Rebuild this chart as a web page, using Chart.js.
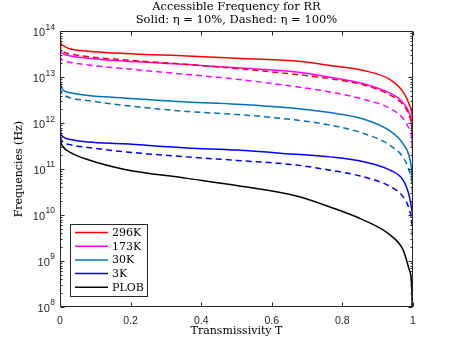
<!DOCTYPE html>
<html lang="en">
<head>
<meta charset="utf-8">
<script src="https://cdn.jsdelivr.net/npm/chart.js@4"></script>
<style>
  html, body { margin: 0; padding: 0; background: #fff; }
</style>
</head>
<body>
<canvas id="chart" width="457" height="346"></canvas>
<script>
// transmissivity samples (denser near both ends, where the curves bend)
const transmissivity = [0, 0.002, 0.01, 0.03, 0.08, 0.18, 0.36, 0.5, 0.67, 0.765, 0.86, 0.935, 0.972, 0.99, 0.997, 1];

// frequencies in Hz
const f296Solid  = [8.9e13, 5.75e13, 4.8e13, 4.1e13, 3.7e13, 3.3e13, 2.9e13, 2.6e13, 2.25e13, 1.8e13, 1.4e13, 8.9e12, 4.8e12, 2.5e12, 1.6e12, 6.3e11];
const f296Dashed = [5.5e13, 4.2e13, 3.55e13, 3.2e13, 2.8e13, 2.4e13, 1.9e13, 1.55e13, 1.15e13, 9.3e12, 6.8e12, 4.1e12, 2.5e12, 1.4e12, 7.9e11, 3.2e11];
const f173Solid  = [5.4e13, 3.8e13, 3.2e13, 2.9e13, 2.6e13, 2.25e13, 1.9e13, 1.6e13, 1.3e13, 1.0e13, 7.2e12, 4.5e12, 2.8e12, 1.6e12, 7.9e11, 1e11];
const f173Dashed = [3.0e13, 2.6e13, 2.35e13, 2.1e13, 1.85e13, 1.55e13, 1.15e13, 9.1e12, 6.2e12, 4.8e12, 3.3e12, 2.1e12, 1.26e12, 7.1e11, 4e11, 1e11];
const f30Solid   = [1.1e13, 7.1e12, 5.2e12, 4.6e12, 4.0e12, 3.55e12, 2.9e12, 2.6e12, 2.1e12, 1.7e12, 1.23e12, 6.8e11, 3.55e11, 1.8e11, 7.9e10, 2.5e10];
const f30Dashed  = [5.8e12, 5.0e12, 4.2e12, 3.55e12, 3.1e12, 2.45e12, 1.8e12, 1.55e12, 1.17e12, 9.1e11, 6.0e11, 3.3e11, 1.8e11, 8.9e10, 5e10, 2e10];
const f3Solid    = [9.1e11, 6.3e11, 5.0e11, 4.4e11, 3.9e11, 3.55e11, 2.9e11, 2.6e11, 2.1e11, 1.85e11, 1.45e11, 9.5e10, 5.75e10, 2.5e10, 1.26e10, 7.9e9];
const f3Dashed   = [5.0e11, 4.5e11, 3.8e11, 3.4e11, 2.95e11, 2.4e11, 1.85e11, 1.55e11, 1.23e11, 9.5e10, 6.8e10, 4.2e10, 2.5e10, 1.26e10, 6.3e9, 2e9];
const fPLOB      = [6.3e11, 4.2e11, 3.0e11, 2.3e11, 1.6e11, 1.0e11, 6.3e10, 4.4e10, 2.6e10, 1.5e10, 7.8e9, 3.7e9, 1.75e9, 6.3e8, 2e8, 1e6];

const xTicks = [0, 0.2, 0.4, 0.6, 0.8, 1];
const yDecades = [8, 9, 10, 11, 12, 13, 14];

const axisColor = '#262626';
const serif = 'DejaVu Serif';
const sans = 'Liberation Sans';

function toPoints(vals) {
    return transmissivity.map((t, i) => ({ x: t, y: vals[i] }));
}

function line(label, vals, color, dashed) {
    return {
        label: label,
        data: toPoints(vals),
        borderColor: color,
        backgroundColor: color,
        borderWidth: 1.5,
        borderDash: dashed ? [6, 4] : [],
        pointRadius: 0,
        cubicInterpolationMode: 'monotone',
        fill: false
    };
}

// box, inward ticks, y labels and the legend, MATLAB style
const matlabAxes = {
    id: 'matlabAxes',
    afterDatasetsDraw(chart) {
        const ctx = chart.ctx;
        const a = chart.chartArea;
        const xs = chart.scales.x, ys = chart.scales.y;
        ctx.save();
        ctx.strokeStyle = axisColor;
        ctx.lineWidth = 1;
        ctx.setLineDash([]);
        const L = Math.round(a.left) + 0.5, R = Math.round(a.right) - 0.5;
        const T = Math.round(a.top) + 0.5, B = Math.round(a.bottom) - 0.5;
        ctx.strokeRect(L, T, R - L, B - T);

        ctx.beginPath();
        xTicks.forEach(v => {
            const px = Math.round(xs.getPixelForValue(v)) + 0.5;
            ctx.moveTo(px, B); ctx.lineTo(px, B - 4);
            ctx.moveTo(px, T); ctx.lineTo(px, T + 4);
        });
        yDecades.forEach(d => {
            const py = Math.round(ys.getPixelForValue(Math.pow(10, d))) + 0.5;
            ctx.moveTo(L, py); ctx.lineTo(L + 4, py);
            ctx.moveTo(R, py); ctx.lineTo(R - 4, py);
            if (d < 14) {
                for (let m = 2; m <= 9; m++) {
                    const pm = Math.round(ys.getPixelForValue(m * Math.pow(10, d))) + 0.5;
                    ctx.moveTo(L, pm); ctx.lineTo(L + 2, pm);
                    ctx.moveTo(R, pm); ctx.lineTo(R - 2, pm);
                }
            }
        });
        ctx.stroke();

        // y tick labels 10^n
        ctx.fillStyle = axisColor;
        ctx.textBaseline = 'middle';
        ctx.textAlign = 'right';
        yDecades.forEach(d => {
            const py = ys.getPixelForValue(Math.pow(10, d));
            const exp = String(d);
            ctx.font = '8.5px "' + sans + '"';
            const ew = ctx.measureText(exp).width;
            ctx.fillText(exp, a.left - 5, py - 4);
            ctx.font = '11px "' + sans + '"';
            ctx.fillText('10', a.left - 5 - ew - 0.5, py + 2);
        });

        // legend in lower-left corner
        const items = chart.data.datasets.filter(ds => ds.borderDash.length === 0);
        const bx = 70.5, by = 224.5, bw = 77, bh = 72;
        ctx.fillStyle = '#fff';
        ctx.fillRect(bx, by, bw, bh);
        ctx.strokeStyle = axisColor;
        ctx.lineWidth = 1;
        ctx.strokeRect(bx, by, bw, bh);
        ctx.font = '11px "' + serif + '"';
        ctx.textAlign = 'left';
        items.forEach((ds, i) => {
            const yy = 232.5 + i * 13.7;
            ctx.strokeStyle = ds.borderColor;
            ctx.lineWidth = 1.5;
            ctx.beginPath();
            ctx.moveTo(75, yy); ctx.lineTo(108, yy);
            ctx.stroke();
            ctx.fillStyle = '#000';
            ctx.fillText(ds.label, 112, yy + 0.5);
        });
        ctx.restore();
    }
};

new Chart(document.getElementById('chart'), {
    type: 'line',
    data: {
        datasets: [
            line('296K', f296Solid, '#FF0000', false),
            line('296K', f296Dashed, '#FF0000', true),
            line('173K', f173Solid, '#FF00FF', false),
            line('173K', f173Dashed, '#FF00FF', true),
            line('30K', f30Solid, '#0072BD', false),
            line('30K', f30Dashed, '#0072BD', true),
            line('3K', f3Solid, '#0000FF', false),
            line('3K', f3Dashed, '#0000FF', true),
            line('PLOB', fPLOB, '#000000', false)
        ]
    },
    options: {
        responsive: false,
        animation: false,
        layout: { padding: { left: 0, right: 44, top: 0, bottom: 0 } },
        plugins: {
            legend: { display: false },
            tooltip: { enabled: false },
            title: {
                display: true,
                fullSize: false,
                text: ['Accessible Frequency for RR', 'Solid: η = 10%, Dashed: η = 100%'],
                color: '#000',
                font: { family: serif, size: 11.5, weight: 'normal', lineHeight: 1.1 },
                padding: { top: 1, bottom: 5 }
            }
        },
        scales: {
            x: {
                type: 'linear',
                min: 0,
                max: 1,
                grid: { display: false, drawTicks: false },
                border: { display: false },
                ticks: {
                    stepSize: 0.2,
                    color: axisColor,
                    font: { family: sans, size: 10.5 },
                    padding: 8,
                    maxRotation: 0,
                    callback: v => String(Number(v.toFixed(1)))
                },
                title: {
                    display: true,
                    text: 'Transmissivity T',
                    color: '#000',
                    font: { family: serif, size: 11 },
                    padding: { top: 0, bottom: 8 }
                },
                afterFit(scale) { scale.height = 39; }
            },
            y: {
                type: 'logarithmic',
                min: 1e8,
                max: 1e14,
                grid: { display: false, drawTicks: false },
                border: { display: false },
                ticks: { display: false },
                title: {
                    display: true,
                    text: 'Frequencies (Hz)',
                    color: '#000',
                    font: { family: serif, size: 11 },
                    padding: { top: 13, bottom: 0 }
                },
                afterFit(scale) { scale.width = 60; }
            }
        }
    },
    plugins: [matlabAxes]
});
</script>
</body>
</html>
